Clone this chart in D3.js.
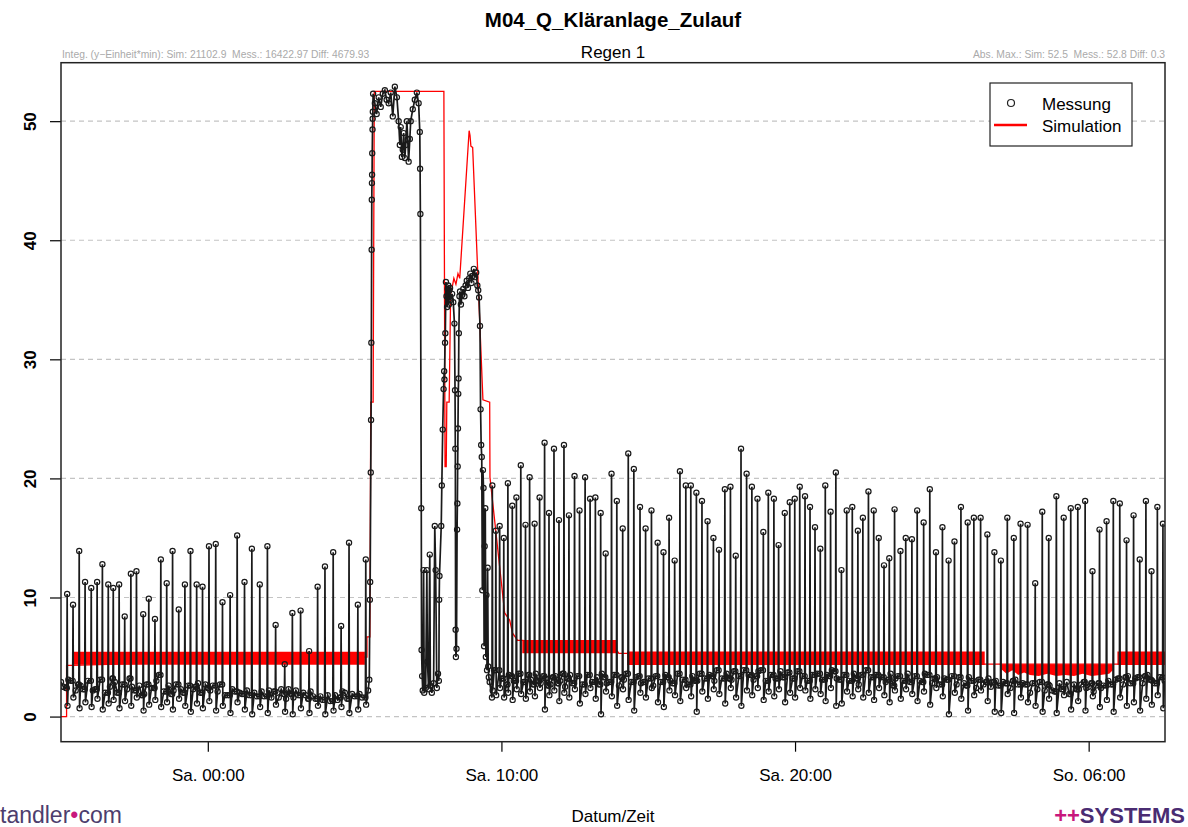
<!DOCTYPE html>
<html>
<head>
<meta charset="utf-8">
<script src="https://cdn.jsdelivr.net/npm/d3@7"></script>
<style>
  body { margin: 0; background: #fff; }
  svg { display: block; }
</style>
</head>
<body>
<svg width="1188" height="827"></svg>
<script>
// ---- data (hours relative to Sa. 00:00) ----
const xTickHours = [0, 10, 20, 30];
const yTicks = [0, 10, 20, 30, 40, 50];

// measured baseline, 10 min steps (A on the full 10 min, B shifted by 5 min)
const baseStepH = 1 / 6;
const preBaseStart = -5.0;
const preBase = [2.9, 2.4, 3.0, 2.2, 2.6, 1.9, 2.8,
  2.3, 3.1, 2.0, 2.5, 2.9, 2.1,
  2.7, 3.2, 2.2, 2.6, 1.9, 2.8,
  2.4, 3.5, 2.1, 2.6, 2.2, 2.9,
  2.0, 2.6, 2.3, 2.8, 1.8, 2.4,
  2.6, 2.1, 2.5, 1.8, 2.3, 2.7,
  1.9, 2.2, 2.6, 1.7, 2.1, 2.4,
  1.6, 2.0, 2.3, 1.5, 1.9, 2.2,
  1.4, 1.8, 2.1, 1.5, 1.7, 2.0,
  1.3, 1.8, 1.6, 2.0, 1.4, 1.7, 1.9];
const preBaseB = [2.5, 3.1, 2.1, 2.7, 2.3, 3.0, 2.2,
  2.8, 1.9, 2.6, 3.2, 2.0, 2.7,
  2.3, 2.5, 3.0, 1.8, 2.7, 2.4,
  3.0, 2.2, 2.8, 1.9, 2.7, 2.3,
  2.9, 2.1, 2.5, 2.0, 2.7, 2.2,
  2.0, 2.7, 1.8, 2.4, 2.1, 2.0,
  2.4, 1.8, 2.0, 2.5, 1.7, 2.2,
  2.1, 1.6, 1.9, 2.3, 1.6, 1.8,
  2.0, 1.5, 1.7, 2.2, 1.4, 1.8,
  1.7, 1.4, 2.1, 1.5, 1.9, 1.5, 1.6];
const postBaseStart = 9.67;
const postBase = [4.6, 3.8, 3.2, 2.7, 3.4, 2.9,
  3.3, 2.6, 3.1, 3.6, 2.8, 3.2,
  2.7, 3.4, 3.0, 2.5, 3.5, 2.9,
  3.2, 2.6, 3.6, 3.0, 2.7, 3.3,
  2.9, 3.5, 2.6, 3.1, 3.7, 2.8,
  3.4, 2.9, 3.2, 2.6, 3.5, 3.0,
  3.3, 2.8, 3.6, 3.1, 2.7, 3.4,
  3.0, 3.7, 2.9, 3.4, 3.9, 3.2,
  3.6, 3.1, 4.0, 3.3, 2.9, 3.7,
  3.4, 3.9, 3.0, 3.5, 3.2, 3.8,
  3.1, 3.6, 3.3, 2.8, 3.5, 3.9,
  3.2, 3.7, 2.9, 3.4, 3.8, 3.1,
  3.5, 3.0, 3.6, 2.7, 3.3, 3.8,
  3.2, 2.8, 3.5, 3.1, 2.6, 3.4,
  3.0, 3.6, 2.7, 3.2, 2.9, 3.5,
  2.8, 3.3, 2.5, 3.1, 3.4, 2.7,
  3.2, 2.6, 3.0, 2.4, 3.3, 2.9,
  2.5, 3.0, 2.2, 2.8, 2.4, 3.1,
  2.3, 2.7, 2.0, 2.6, 2.9, 2.2,
  2.6, 2.1, 2.8, 2.4, 1.9, 2.7,
  2.3, 2.9, 2.5, 2.1, 2.8, 2.6,
  3.0, 2.5, 3.2, 2.7, 3.4, 2.9,
  3.3, 2.8, 3.5, 3.0, 2.6, 3.2];
const postBaseB = [3.9, 3.4, 2.8, 3.5, 3.0, 3.6,
  2.9, 3.5, 2.7, 3.0, 3.4, 2.6,
  3.3, 2.8, 3.6, 3.2, 2.8, 3.4,
  2.7, 3.5, 2.9, 3.3, 3.6, 2.8,
  3.4, 2.8, 3.3, 3.6, 2.9, 3.3,
  2.8, 3.5, 2.7, 3.4, 2.9, 3.5,
  3.0, 3.5, 3.1, 2.8, 3.6, 3.0,
  3.6, 3.2, 3.5, 3.0, 3.4, 3.8,
  3.2, 3.8, 3.4, 3.9, 3.5, 3.1,
  3.8, 3.3, 3.6, 3.1, 3.7, 3.3,
  3.7, 3.2, 3.8, 3.4, 3.0, 3.5,
  3.6, 3.1, 3.5, 3.9, 3.2, 3.6,
  3.1, 3.7, 3.2, 3.5, 3.9, 3.3,
  3.5, 3.3, 2.9, 3.6, 3.2, 2.9,
  3.4, 2.9, 3.4, 3.0, 3.6, 3.1,
  3.2, 2.7, 3.2, 2.8, 3.0, 3.3,
  2.8, 3.3, 2.7, 3.1, 2.7, 3.2,
  2.9, 2.6, 2.9, 2.5, 3.0, 2.7,
  2.8, 2.4, 2.8, 2.3, 2.5, 2.7,
  2.2, 2.7, 2.3, 2.9, 2.5, 2.3,
  2.7, 2.4, 2.8, 2.6, 2.4, 2.9,
  2.7, 3.1, 2.8, 3.3, 2.8, 3.2,
  2.9, 3.4, 3.1, 2.8, 3.3, 3.0];

// pump spikes: time, peak, dip right after
const spikeHour = [-4.79, -4.59, -4.38, -4.18, -3.97, -3.77, -3.59, -3.39, -3.22, -3.02,
  -2.83, -2.62, -2.43, -2.20, -2.01, -1.80, -1.60, -1.40, -1.20, -0.99,
  -0.78, -0.59, -0.38, -0.18, 0.04, 0.27, 0.50, 0.76, 1.00, 1.25,
  1.50, 1.77, 2.03, 2.31, 2.62, 2.88, 3.16, 3.45, 3.74, 3.99,
  4.27, 4.54, 4.81, 5.11, 5.38,
  9.69, 9.81, 9.94, 10.08, 10.22, 10.37, 10.51, 10.66, 10.82, 10.96,
  11.13, 11.30, 11.47, 11.62, 11.79, 11.96, 12.13, 12.30, 12.49, 12.66,
  12.85, 13.02, 13.20, 13.38, 13.55, 13.75, 13.93, 14.13, 14.32, 14.51,
  14.72, 14.91, 15.11, 15.32, 15.52, 15.71, 15.90, 16.08, 16.28, 16.45,
  16.64, 16.83, 17.02, 17.22, 17.41, 17.61, 17.80, 17.98, 18.16, 18.35,
  18.53, 18.72, 18.92, 19.09, 19.28, 19.44, 19.65, 19.82, 19.99, 20.16,
  20.34, 20.51, 20.68, 20.86, 21.03, 21.21, 21.39, 21.58, 21.76, 21.95,
  22.14, 22.31, 22.50, 22.68, 22.85, 23.03, 23.21, 23.39, 23.59, 23.77,
  23.98, 24.16, 24.38, 24.59, 24.80, 25.02, 25.23, 25.43, 25.65, 25.88,
  26.09, 26.32, 26.55, 26.79, 27.01, 27.23, 27.45, 27.68, 27.92, 28.18,
  28.42, 28.64, 28.90, 29.15, 29.39, 29.63, 29.88, 30.13, 30.37, 30.61,
  30.84, 31.06, 31.29, 31.53, 31.74, 31.95, 32.14, 32.34, 32.53];
const spikePeak = [10.3, 9.4, 13.9, 11.3, 10.8, 11.3, 12.8, 11.1, 10.8, 11.1,
  8.4, 12.0, 12.2, 8.6, 9.9, 8.2, 13.2, 11.2, 13.9, 9.0,
  11.1, 13.9, 11.1, 10.9, 14.3, 14.5, 9.6, 10.2, 15.2, 11.3,
  14.1, 11.1, 14.3, 7.7, 4.4, 8.7, 8.9, 5.5, 10.9, 12.6,
  13.8, 7.6, 14.6, 9.4, 13.2,
  19.4, 15.6, 16.0, 15.0, 19.6, 17.7, 18.4, 21.1, 16.1, 20.1,
  16.2, 18.4, 23.0, 17.1, 22.5, 16.5, 22.8, 16.9, 20.2, 17.3,
  20.1, 18.3, 18.4, 17.1, 13.7, 20.4, 18.1, 15.8, 22.1, 20.8,
  17.6, 15.8, 17.3, 14.6, 13.8, 16.7, 13.1, 20.6, 19.4, 19.4,
  18.8, 18.1, 16.4, 15.0, 14.0, 19.1, 19.3, 13.5, 22.5, 20.4,
  19.3, 18.3, 15.5, 18.8, 18.3, 14.4, 17.1, 18.0, 18.3, 19.3,
  18.5, 17.6, 15.9, 14.1, 19.4, 17.2, 20.5, 12.3, 17.3, 17.6,
  15.6, 16.7, 18.9, 17.3, 15.0, 12.7, 13.3, 17.4, 13.9, 15.0,
  14.9, 17.3, 16.3, 19.1, 13.8, 15.9, 13.1, 14.7, 17.6, 16.3,
  16.7, 16.7, 15.3, 13.8, 13.1, 16.7, 15.0, 16.2, 16.1, 11.2,
  17.2, 15.0, 18.5, 16.7, 17.5, 17.6, 18.1, 12.2, 15.7, 16.4,
  18.1, 17.9, 14.8, 16.9, 13.2, 18.1, 12.2, 17.6, 16.2];
const spikeLow = [0.9, 1.6, 0.7, 1.2, 0.8, 1.5, 0.6, 1.1, 1.4, 0.7,
  1.3, 0.9, 1.6, 0.5, 1.0, 1.4, 0.8, 1.2, 0.6, 1.5,
  0.9, 0.4, 1.1, 0.7, 1.3, 0.5, 0.9, 0.3, 1.2, 0.6,
  0.2, 0.8, 0.3, 1.0, 0.4, 0.2, 0.7, 0.3, 0.9, 0.2,
  0.5, 0.8, 0.3, 0.6, 1.0,
  2.2, 1.8, 2.4, 1.6, 2.0, 1.4, 2.3, 1.9, 1.5, 2.1,
  1.7, 2.4, 0.6, 1.8, 2.2, 1.3, 2.0, 1.6, 2.3, 1.1,
  1.9, 2.4, 1.5, 0.2, 2.1, 1.7, 0.9, 2.3, 1.4, 0.5,
  2.0, 1.6, 2.4, 1.2, 0.8, 2.2, 1.8, 1.3, 2.4, 1.7,
  0.4, 2.1, 1.5, 2.3, 1.9, 1.1, 2.4, 1.6, 0.9, 2.2,
  1.8, 2.4, 1.4, 2.1, 1.7, 2.3, 1.2, 2.0, 1.6, 2.4,
  2.2, 1.5, 2.3, 1.9, 1.3, 2.4, 0.9, 1.1, 2.1, 1.7,
  2.3, 1.6, 2.0, 1.4, 2.4, 1.8, 1.2, 2.2, 1.5, 2.3,
  1.9, 1.3, 2.1, 1.0, 2.4, 1.7, 0.2, 2.0, 1.5, 0.5,
  1.8, 2.2, 1.3, 0.4, 0.3, 1.9, 0.3, 1.6, 1.2, 0.9,
  0.4, 1.5, 0.3, 1.8, 0.6, 1.3, 0.5, 1.7, 0.8, 1.4,
  0.4, 1.6, 0.9, 1.2, 0.5, 1.5, 1.0, 1.8, 0.7];

// rain event, measured
const rainHour = [5.46, 5.50, 5.52, 5.53, 5.55, 5.56, 5.57, 5.58, 5.585, 5.59,
  5.595, 5.60, 5.61, 5.615, 5.62, 5.63, 5.69, 5.75, 5.82, 5.89,
  5.96, 6.03, 6.09, 6.16, 6.23, 6.30, 6.37, 6.44, 6.50, 6.54,
  6.57, 6.61, 6.64, 6.67, 6.71, 6.74, 6.78, 6.81, 6.84, 6.88,
  6.91, 6.98, 7.05, 7.12, 7.18, 7.22, 7.23, 7.24, 7.27, 7.28,
  7.30, 7.32, 7.35, 7.37, 7.42, 7.46, 7.48, 7.52, 7.56, 7.58,
  7.63, 7.69, 7.73, 7.76, 7.80, 7.84, 7.87, 7.88, 7.89, 7.95,
  7.97, 8.00, 8.03, 8.05, 8.06, 8.08, 8.09, 8.11, 8.13, 8.15,
  8.17, 8.19, 8.21, 8.23, 8.25, 8.27, 8.32, 8.36, 8.40, 8.42,
  8.43, 8.44, 8.45, 8.47, 8.49, 8.50, 8.51, 8.52, 8.53, 8.54,
  8.55, 8.57, 8.59, 8.62, 8.66, 8.70, 8.74, 8.78, 8.82, 8.86,
  8.90, 8.94, 8.98, 9.02, 9.06, 9.10, 9.14, 9.18, 9.21, 9.24,
  9.27, 9.29, 9.31, 9.33, 9.35, 9.37, 9.39, 9.41, 9.43, 9.45,
  9.47, 9.49, 9.51, 9.53, 9.55, 9.57, 9.60];
const rainVal = [2.2, 3.1, 9.8, 11.3, 20.5, 24.9, 31.4, 39.2, 43.4, 44.8,
  45.5, 47.3, 49.3, 50.2, 50.8, 52.3, 51.5, 50.6, 52.0, 51.2,
  52.3, 52.6, 51.8, 51.5, 52.4, 50.4, 52.9, 52.0, 50.0, 48.0,
  49.5, 47.0, 47.6, 49.0, 46.9, 48.0, 50.0, 48.5, 46.6, 48.5,
  50.0, 51.0, 51.8, 52.4, 51.5, 49.1, 46.0, 42.2, 17.5, 5.6,
  3.4, 2.2, 12.3, 2.0, 2.4, 12.3, 4.6, 2.3, 13.6, 2.6,
  2.0, 2.8, 16.0, 12.3, 2.4, 3.6, 3.0, 9.8, 11.8, 16.0,
  19.4, 24.1, 27.5, 29.0, 28.3, 31.4, 32.2, 36.5, 35.3, 34.4,
  35.9, 36.2, 34.6, 35.8, 36.0, 35.0, 35.5, 34.8, 33.0, 27.4,
  22.5, 7.3, 5.0, 5.7, 15.7, 17.9, 21.0, 24.2, 27.1, 28.4,
  32.2, 35.3, 35.7, 34.6, 35.4, 35.9, 35.3, 36.2, 36.6, 36.0,
  36.8, 37.2, 36.4, 37.0, 37.6, 36.9, 37.3, 36.2, 35.8, 35.2,
  32.8, 25.8, 22.8, 21.8, 10.6, 20.7, 19.2, 5.9, 14.3, 17.5,
  5.0, 10.2, 3.9, 12.5, 4.2, 3.3, 2.9];

// simulation line
const simHour = [-5.00, -4.81, -4.81, -4.60, 5.35, 5.42, 5.42, 5.52, 5.55, 5.63,
  5.67, 8.04, 8.08, 8.12, 8.14, 8.22, 8.27, 8.32, 8.38, 8.45,
  8.52, 8.58, 8.90, 8.93, 8.96, 9.02, 9.37, 9.60, 9.61, 10.11,
  10.28, 10.38, 10.55, 10.71, 13.92, 14.00, 14.28, 26.46, 27.02, 30.82,
  30.98, 32.60];
const simVal = [0, 0, 4.3, 4.3, 5.0, 5.0, 6.7, 6.7, 26.4, 26.4,
  52.5, 52.5, 21.0, 21.0, 26.4, 26.4, 35.5, 36.0, 36.8, 36.3,
  37.2, 36.8, 49.2, 48.8, 47.9, 47.8, 26.6, 26.4, 20.1, 8.7,
  8.1, 7.0, 6.4, 6.4, 5.6, 5.3, 5.3, 4.4, 4.4, 4.4,
  4.4, 4.9];

// simulation oscillation bands (null = gap)
const bandHour = [-4.60, 5.35, null, 10.71, 13.92, null, 14.28, 26.46, null,
  27.02, 27.2, 27.4, 27.6, 27.8, 28.0, 28.3, 28.6, 28.9, 29.2, 29.5, 29.8, 30.1, 30.4, 30.7, 30.82, null,
  30.98, 32.60];
const bandLo = [4.35, 4.35, null, 5.32, 5.32, null, 4.34, 4.34, null,
  4.0, 3.6, 3.9, 3.5, 3.7, 3.5, 3.4, 3.6, 3.4, 3.5, 3.4, 3.6, 3.4, 3.5, 3.6, 3.9, null,
  4.34, 4.34];
const bandHi = [5.45, 5.45, null, 6.44, 6.44, null, 5.46, 5.46, null,
  4.4, 4.4, 4.4, 4.4, 4.4, 4.4, 4.4, 4.4, 4.4, 4.4, 4.4, 4.4, 4.4, 4.4, 4.4, 4.4, null,
  5.46, 5.46];

const dayNames = ["So.", "Mo.", "Di.", "Mi.", "Do.", "Fr.", "Sa."];

// ---- setup ----
const FONT = "'Liberation Sans', Arial, Helvetica, sans-serif";
const svg = d3.select("svg");
const plot = { left: 61, right: 1165, top: 62.7, bottom: 741.7 };
const t0 = new Date(2021, 4, 15, 0, 0);
const toDate = (h) => new Date(t0.getTime() + h * 3600000);

const xScale = d3
  .scaleTime()
  .domain([toDate(-5.0), toDate(32.6)])
  .range([plot.left, plot.right]);
const yScale = d3
  .scaleLinear()
  .domain([-2.11, 54.91])
  .range([plot.bottom, plot.top]);

svg.append("defs").append("clipPath").attr("id", "clip")
  .append("rect")
  .attr("x", plot.left).attr("y", plot.top)
  .attr("width", plot.right - plot.left).attr("height", plot.bottom - plot.top);

// grid
svg.append("g")
  .selectAll("line")
  .data(yTicks)
  .enter()
  .append("line")
  .attr("x1", plot.left).attr("x2", plot.right)
  .attr("y1", (d) => yScale(d)).attr("y2", (d) => yScale(d))
  .attr("stroke", "#c4c4c4")
  .attr("stroke-width", 1.2)
  .attr("stroke-dasharray", "5,4");

// measurement points
const spikeTol = 0.03;
const base = [];
const addBase = (start, vals) => {
  vals.forEach((v, i) => {
    const h = start + i * baseStepH;
    const nearSpike = spikeHour.some((s) => Math.abs(s - h) < spikeTol);
    if (!nearSpike) base.push([h, v]);
  });
};
addBase(preBaseStart, preBase);
addBase(preBaseStart + baseStepH / 2, preBaseB);
addBase(postBaseStart, postBase);
addBase(postBaseStart + baseStepH / 2, postBaseB);
base.sort((a, b) => a[0] - b[0]);

const mess = base.slice();
spikeHour.forEach((h, i) => {
  // pump starts from the last measured base level (held value)
  const before = base.filter((b) => b[0] < h);
  const hold = before.length ? before[before.length - 1][1] : spikeLow[i];
  mess.push([h - 0.012, hold]);
  mess.push([h, spikePeak[i]]);
  mess.push([h + 0.012, spikeLow[i]]);
});
rainHour.forEach((h, i) => mess.push([h, rainVal[i]]));
mess.sort((a, b) => a[0] - b[0]);

const sim = simHour.map((h, i) => [h, simVal[i]]);
const band = bandHour.map((h, i) => (h === null ? null : [h, bandLo[i], bandHi[i]]));

const g = svg.append("g").attr("clip-path", "url(#clip)");

// simulation
g.append("path")
  .datum(band)
  .attr("d", d3.area()
    .defined((d) => d !== null)
    .x((d) => xScale(toDate(d[0])))
    .y0((d) => yScale(d[1]))
    .y1((d) => yScale(d[2])))
  .attr("fill", "#ff0000");

g.append("path")
  .datum(sim)
  .attr("d", d3.line()
    .x((d) => xScale(toDate(d[0])))
    .y((d) => yScale(d[1])))
  .attr("fill", "none")
  .attr("stroke", "#ff0000")
  .attr("stroke-width", 1.3);

// measurement
g.append("path")
  .datum(mess)
  .attr("d", d3.line()
    .x((d) => xScale(toDate(d[0])))
    .y((d) => yScale(d[1])))
  .attr("fill", "none")
  .attr("stroke", "#1a1a1a")
  .attr("stroke-width", 1.7);

g.append("g")
  .selectAll("circle")
  .data(mess)
  .enter()
  .append("circle")
  .attr("cx", (d) => xScale(toDate(d[0])))
  .attr("cy", (d) => yScale(d[1]))
  .attr("r", 2.6)
  .attr("fill", "none")
  .attr("stroke", "#1a1a1a")
  .attr("stroke-width", 1.2);

// axes
const tickFmt = (d) => dayNames[d.getDay()] + " " + d3.timeFormat("%H:%M")(d);
const xAxisG = svg.append("g")
  .attr("transform", `translate(0,${plot.bottom})`)
  .call(d3.axisBottom(xScale).tickValues(xTickHours.map(toDate)).tickFormat(tickFmt).tickSize(10).tickPadding(17));
xAxisG.select(".domain").remove();
xAxisG.attr("font-family", FONT).attr("font-size", 17);
xAxisG.selectAll("text").attr("fill", "#000");
xAxisG.selectAll("line").attr("stroke", "#000").attr("stroke-width", 1.2);

const yAxisG = svg.append("g")
  .attr("transform", `translate(${plot.left},0)`)
  .call(d3.axisLeft(yScale).tickValues(yTicks).tickSize(11));
yAxisG.select(".domain").remove();
yAxisG.attr("font-family", FONT).attr("font-size", 17).attr("font-weight", "bold");
yAxisG.selectAll("line").attr("stroke", "#000").attr("stroke-width", 1.2);
yAxisG.selectAll("text")
  .attr("fill", "#000")
  .attr("transform", "rotate(-90)")
  .attr("x", 0)
  .attr("y", -25)
  .attr("dy", 0)
  .attr("text-anchor", "middle");

// frame
svg.append("rect")
  .attr("x", plot.left).attr("y", plot.top)
  .attr("width", plot.right - plot.left).attr("height", plot.bottom - plot.top)
  .attr("fill", "none")
  .attr("stroke", "#222")
  .attr("stroke-width", 1.5);

// titles
svg.append("text")
  .attr("x", 613).attr("y", 27)
  .attr("text-anchor", "middle")
  .attr("font-family", FONT).attr("font-size", 20.5).attr("font-weight", "bold")
  .text("M04_Q_Kläranlage_Zulauf");
svg.append("text")
  .attr("x", 613).attr("y", 58)
  .attr("text-anchor", "middle")
  .attr("font-family", FONT).attr("font-size", 17)
  .text("Regen 1");
svg.append("text")
  .attr("x", plot.left + 1).attr("y", 58)
  .attr("font-family", FONT).attr("font-size", 10.3).attr("fill", "#aaa")
  .text("Integ. (y\u2212Einheit*min): Sim: 21102.9  Mess.: 16422.97 Diff: 4679.93")
  .style("white-space", "pre");
svg.append("text")
  .attr("x", plot.right).attr("y", 58)
  .attr("text-anchor", "end")
  .attr("font-family", FONT).attr("font-size", 10.3).attr("fill", "#aaa")
  .text("Abs. Max.: Sim: 52.5  Mess.: 52.8 Diff: 0.3")
  .style("white-space", "pre");

svg.append("text")
  .attr("x", 613).attr("y", 822)
  .attr("text-anchor", "middle")
  .attr("font-family", FONT).attr("font-size", 17)
  .text("Datum/Zeit");

// logos
const logoL = svg.append("text")
  .attr("x", 0).attr("y", 823)
  .attr("font-family", FONT).attr("font-size", 23).attr("fill", "#4d3d6d");
logoL.append("tspan").text("tandler");
logoL.append("tspan").attr("fill", "#c8177d").text("\u2022");
logoL.append("tspan").text("com");

const logoR = svg.append("text")
  .attr("x", 1185).attr("y", 823)
  .attr("text-anchor", "end")
  .attr("font-family", "'Liberation Sans Narrow', 'Arial Narrow', " + FONT)
  .attr("font-size", 22).attr("font-weight", "bold").attr("fill", "#4a2c72");
logoR.append("tspan").attr("fill", "#c8177d").text("++");
logoR.append("tspan").text("SYSTEMS");

// legend
const legend = svg.append("g");
legend.append("rect")
  .attr("x", 990).attr("y", 83).attr("width", 142).attr("height", 63)
  .attr("fill", "#fff").attr("stroke", "#222").attr("stroke-width", 1.2);
legend.append("circle")
  .attr("cx", 1011).attr("cy", 103).attr("r", 3.5)
  .attr("fill", "none").attr("stroke", "#222").attr("stroke-width", 1.2);
legend.append("line")
  .attr("x1", 994).attr("x2", 1027).attr("y1", 125).attr("y2", 125)
  .attr("stroke", "#ff0000").attr("stroke-width", 2.5);
legend.append("text")
  .attr("x", 1042).attr("y", 110)
  .attr("font-family", FONT).attr("font-size", 17)
  .text("Messung");
legend.append("text")
  .attr("x", 1042).attr("y", 132)
  .attr("font-family", FONT).attr("font-size", 17)
  .text("Simulation");
</script>
</body>
</html>
